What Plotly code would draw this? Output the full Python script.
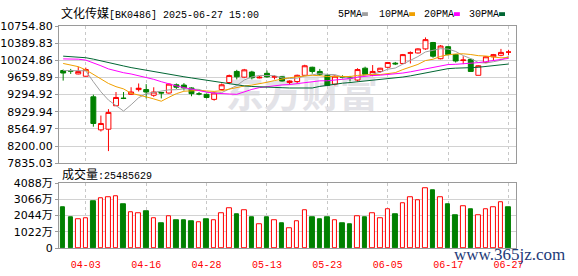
import plotly.graph_objects as go

# ---------------- data ----------------
dates = ["03-31", "04-01", "04-02", "04-03", "04-07", "04-08", "04-09", "04-10", "04-11", "04-14",
         "04-15", "04-16", "04-17", "04-18", "04-21", "04-22", "04-23", "04-24", "04-25", "04-28",
         "04-29", "04-30", "05-06", "05-07", "05-08", "05-09", "05-12", "05-13", "05-14", "05-15",
         "05-16", "05-19", "05-20", "05-21", "05-22", "05-23", "05-26", "05-27", "05-28", "05-29",
         "05-30", "06-03", "06-04", "06-05", "06-06", "06-09", "06-10", "06-11", "06-12", "06-13",
         "06-16", "06-17", "06-18", "06-19", "06-20", "06-23", "06-24", "06-25", "06-26", "06-27"]

opens = [9808, 9805, 9735, 9686, 9248, 8545, 8559, 9058, 9220, 9301,
         9402, 9402, 9281, 9340, 9329, 9504, 9498, 9437, 9310, 9301,
         9194, 9402, 9552, 9788, 9666, 9776, 9650, 9748, 9665, 9674,
         9552, 9573, 9706, 9877, 9788, 9706, 9518, 9680, 9660, 9605,
         9857, 9706, 9788, 9876, 9964, 9958, 10175, 10181, 10268, 10404,
         10059, 10315, 10146, 10020, 10045, 9706, 9978, 10100, 10132, 10200]
highs = [9828, 9842, 9889, 9870, 9294, 8849, 8985, 9350, 9350, 9452,
         9532, 9518, 9451, 9350, 9532, 9532, 9540, 9451, 9350, 9315,
         9350, 9532, 9721, 9822, 9842, 9802, 9690, 9808, 9706, 9686,
         9600, 9720, 9930, 9889, 9842, 9741, 9706, 9706, 9694, 9857,
         9889, 9924, 9864, 9990, 9990, 10160, 10214, 10282, 10512, 10416,
         10350, 10329, 10160, 10112, 10059, 9920, 10112, 10160, 10268, 10248]
lows = [9593, 9735, 9727, 9680, 8612, 8510, 8093, 9052, 9200, 9295,
        9362, 9214, 9248, 9214, 9315, 9417, 9382, 9260, 9281, 9214,
        9167, 9382, 9518, 9619, 9654, 9619, 9640, 9654, 9619, 9573,
        9510, 9530, 9694, 9741, 9694, 9477, 9492, 9640, 9573, 9573,
        9706, 9686, 9760, 9857, 9924, 9944, 9958, 10170, 10248, 10080,
        10045, 10126, 9978, 9944, 9788, 9706, 9964, 10011, 10112, 10132]
closes = [9755, 9795, 9788, 9828, 8681, 8681, 8916, 9234, 9214, 9350,
          9431, 9350, 9350, 9330, 9518, 9452, 9437, 9315, 9310, 9234,
          9329, 9504, 9700, 9674, 9822, 9654, 9665, 9674, 9680, 9585,
          9585, 9706, 9909, 9788, 9727, 9492, 9686, 9668, 9650, 9828,
          9727, 9788, 9857, 9978, 9950, 10146, 10185, 10268, 10465, 10112,
          10329, 10146, 10011, 10031, 9788, 9909, 10100, 10146, 10193, 10200]

# volume in 万 (10k shares)
volumes = [2585, 1923, 1803, 1863, 2945, 3167, 3227, 3287, 2765, 2284,
           2224, 2344, 1863, 1563, 2025, 1743, 1743, 1683, 1603, 1803,
           1743, 2224, 2524, 2164, 2404, 1923, 1483, 1923, 1743, 1563,
           1262, 1683, 2404, 1923, 1803, 1923, 1723, 1563, 1503, 2025,
           1923, 2224, 1863, 2444, 2104, 2825, 3227, 3005, 3768, 3666,
           3227, 2765, 2044, 2625, 2464, 2084, 2444, 2565, 2865, 2549]
# 1 = rising bar (hollow red), 0 = falling bar (solid green)
vol_up = [0, 0, 1, 1, 0, 1, 1, 1, 0, 1,
          1, 0, 1, 0, 1, 0, 0, 0, 1, 0,
          1, 1, 1, 0, 1, 0, 1, 0, 1, 0,
          1, 1, 1, 0, 0, 0, 1, 0, 0, 1,
          0, 1, 1, 1, 0, 1, 1, 1, 1, 0,
          1, 0, 0, 1, 0, 1, 1, 1, 1, 0]

ma5 = [9808, 9806, 9804, 9802, 9569, 9355, 9179, 9068, 8945, 9079,
       9229, 9316, 9339, 9362, 9396, 9400, 9417, 9410, 9406, 9350,
       9325, 9338, 9415, 9488, 9606, 9671, 9703, 9698, 9699, 9651,
       9638, 9646, 9693, 9715, 9743, 9724, 9720, 9672, 9645, 9665,
       9712, 9732, 9770, 9836, 9860, 9944, 10023, 10105, 10203, 10235,
       10272, 10264, 10213, 10126, 10061, 9977, 9968, 9995, 10027, 10110]
ma10 = [9958, 9924, 9890, 9822, 9721, 9619, 9532, 9464, 9417, 9324,
        9292, 9247, 9204, 9154, 9237, 9315, 9367, 9375, 9384, 9373,
        9363, 9378, 9413, 9447, 9478, 9498, 9521, 9557, 9594, 9629,
        9654, 9674, 9695, 9707, 9697, 9680, 9683, 9683, 9680, 9704,
        9718, 9726, 9721, 9740, 9762, 9828, 9878, 9938, 10019, 10048,
        10108, 10144, 10159, 10164, 10148, 10124, 10116, 10104, 10077, 10085]
ma20 = [10055, 10055, 10049, 10029, 9976, 9909, 9842, 9795, 9761, 9734,
        9700, 9665, 9620, 9570, 9520, 9480, 9445, 9410, 9378, 9348,
        9327, 9313, 9308, 9301, 9358, 9406, 9444, 9466, 9489, 9501,
        9509, 9527, 9555, 9578, 9588, 9590, 9601, 9619, 9636, 9666,
        9686, 9700, 9708, 9723, 9729, 9754, 9780, 9810, 9849, 9876,
        9913, 9935, 9940, 9952, 9955, 9976, 9997, 10021, 10048, 10066]
ma30 = [10113, 10105, 10095, 10080, 10050, 10010, 9976, 9945, 9905, 9870,
        9840, 9815, 9785, 9755, 9725, 9700, 9675, 9650, 9625, 9595,
        9565, 9540, 9518, 9498, 9480, 9468, 9458, 9450, 9445, 9442,
        9436, 9433, 9437, 9436, 9470, 9497, 9523, 9538, 9552, 9568,
        9578, 9593, 9609, 9631, 9645, 9669, 9694, 9725, 9764, 9793,
        9826, 9848, 9858, 9870, 9869, 9877, 9892, 9908, 9925, 9946]

price_ticks = [7835.03, 8200.00, 8564.97, 8929.94, 9294.92, 9659.89, 10024.86, 10389.83, 10754.80]
vol_ticks = [0, 1022, 2044, 3066, 4088]
date_ticks = ["04-03", "04-16", "04-28", "05-13", "05-23", "06-05", "06-17", "06-27"]
ma_names = ["5PMA", "10PMA", "20PMA", "30PMA"]
title_name = "文化传媒"
title_rest = "[BK0486] 2025-06-27 15:00"
volume_label = "成交量"
last_volume = 25485629

# ---------------- styles ----------------
W, H = 578, 276
RED = "#ff0000"
GREEN = "#008000"
MA_COLORS = ["#a0a0a0", "#f0a000", "#ff00ff", "#006633"]
GRID = "#d2d2d2"
VGRID = "#c8c8c8"
FRAME = "#9a9a9a"
MONO = "Liberation Mono, Noto Sans CJK SC, monospace"
SANS = "DejaVu Sans, Noto Sans CJK SC, sans-serif"


def px(x):
    return x / W


def py(y):
    return 1 - y / H


XDOM = [px(56), px(522)]
XRANGE = [-0.56, 60.0]

fig = go.Figure()

fig.add_trace(go.Candlestick(
    x=dates, open=opens, high=highs, low=lows, close=closes,
    increasing=dict(line=dict(color=RED, width=1), fillcolor="#ffffff"),
    decreasing=dict(line=dict(color=GREEN, width=1), fillcolor=GREEN),
    whiskerwidth=0, showlegend=False, hoverinfo="skip",
    xaxis="x", yaxis="y"))

for name, vals, col in zip(ma_names, [ma5, ma10, ma20, ma30], MA_COLORS):
    fig.add_trace(go.Scatter(x=dates, y=vals, mode="lines", name=name,
                             line=dict(color=col, width=1), showlegend=False,
                             hoverinfo="skip", xaxis="x", yaxis="y"))

fig.add_trace(go.Bar(
    x=dates, y=volumes, width=0.6,
    marker=dict(color=["#ffffff" if u else GREEN for u in vol_up],
                line=dict(color=[RED if u else GREEN for u in vol_up], width=1)),
    showlegend=False, hoverinfo="skip", xaxis="x2", yaxis="y2"))

axis_common = dict(showline=True, mirror=True, linecolor=FRAME, linewidth=1, zeroline=False)

fig.update_layout(
    width=W, height=H,
    margin=dict(l=0, r=0, t=0, b=0),
    paper_bgcolor="#ffffff", plot_bgcolor="#ffffff",
    boxgap=0.35, boxgroupgap=0, bargap=0,
    xaxis=dict(domain=XDOM, type="category", range=XRANGE, anchor="y",
               tickmode="array", tickvals=date_ticks, showticklabels=False, ticks="",
               showgrid=True, gridcolor=VGRID, griddash="3px,3px", gridwidth=1,
               rangeslider=dict(visible=False), **axis_common),
    yaxis=dict(domain=[py(165), py(21)], range=[price_ticks[0], price_ticks[-1]], anchor="x",
               tickmode="array", tickvals=price_ticks, ticktext=[f"{v:.2f}" for v in price_ticks],
               ticks="outside", ticklen=3, tickcolor=FRAME,
               tickfont=dict(family=SANS, size=11, color="#000000"),
               showgrid=True, gridcolor=GRID, gridwidth=1, **axis_common),
    xaxis2=dict(domain=XDOM, type="category", range=XRANGE, anchor="y2",
                tickmode="array", tickvals=date_ticks, ticktext=date_ticks, ticks="",
                tickfont=dict(family=MONO, size=10, color=RED), ticklabelstandoff=7,
                showgrid=True, gridcolor=VGRID, griddash="3px,3px", gridwidth=1,
                **axis_common),
    yaxis2=dict(domain=[py(254), py(186)], range=[0, vol_ticks[-1]], anchor="x2",
                tickmode="array", tickvals=vol_ticks,
                ticktext=[("%d万" % v) if v else "0" for v in vol_ticks],
                ticks="outside", ticklen=3, tickcolor=FRAME,
                tickfont=dict(family=SANS, size=11, color="#000000"),
                showgrid=True, gridcolor=GRID, gridwidth=1, **axis_common),
)

annotations = [
    dict(x=px(56), y=py(8.5), xref="paper", yref="paper", xanchor="left", yanchor="middle",
         showarrow=False, font=dict(family=MONO, size=10, color="#000000"),
         text='<span style="font-size:12px">%s</span>%s' % (title_name, title_rest)),
    dict(x=px(57), y=py(177.5), xref="paper", yref="paper", xanchor="left", yanchor="middle",
         showarrow=False, font=dict(family=MONO, size=10, color="#000000"),
         text='<span style="font-size:12px">%s</span>:%d' % (volume_label, last_volume)),
    dict(x=px(457), y=py(261), xref="paper", yref="paper", xanchor="left", yanchor="middle",
         showarrow=False, font=dict(family="Liberation Serif, serif", size=17, color="#1e3a78"),
         text="www.365jz.com"),
]

shapes = [
    dict(type="rect", xref="paper", yref="paper", x0=px(222), x1=px(385), y0=py(115), y1=py(75),
         line=dict(width=0), fillcolor="rgba(0,0,0,0)", layer="below",
         label=dict(text="东方财富", textposition="middle center",
                    font=dict(family="Noto Sans CJK SC", size=38, color="#e3e3e8", weight="bold"))),
]

legend_x = [338, 380, 425.7, 471.7]
for name, col, lx in zip(ma_names, MA_COLORS, legend_x):
    annotations.append(dict(x=px(lx), y=py(8.5), xref="paper", yref="paper", xanchor="left",
                            yanchor="middle", showarrow=False,
                            font=dict(family=MONO, size=10, color="#000000"), text=name))
    sx = lx + 6 * len(name) + 3
    shapes.append(dict(type="rect", xref="paper", yref="paper", x0=px(sx), x1=px(sx + 6),
                       y0=py(10.5), y1=py(6.5), line=dict(width=0), fillcolor=col))

fig.update_layout(annotations=annotations, shapes=shapes)

fig.write_html("out.html")
